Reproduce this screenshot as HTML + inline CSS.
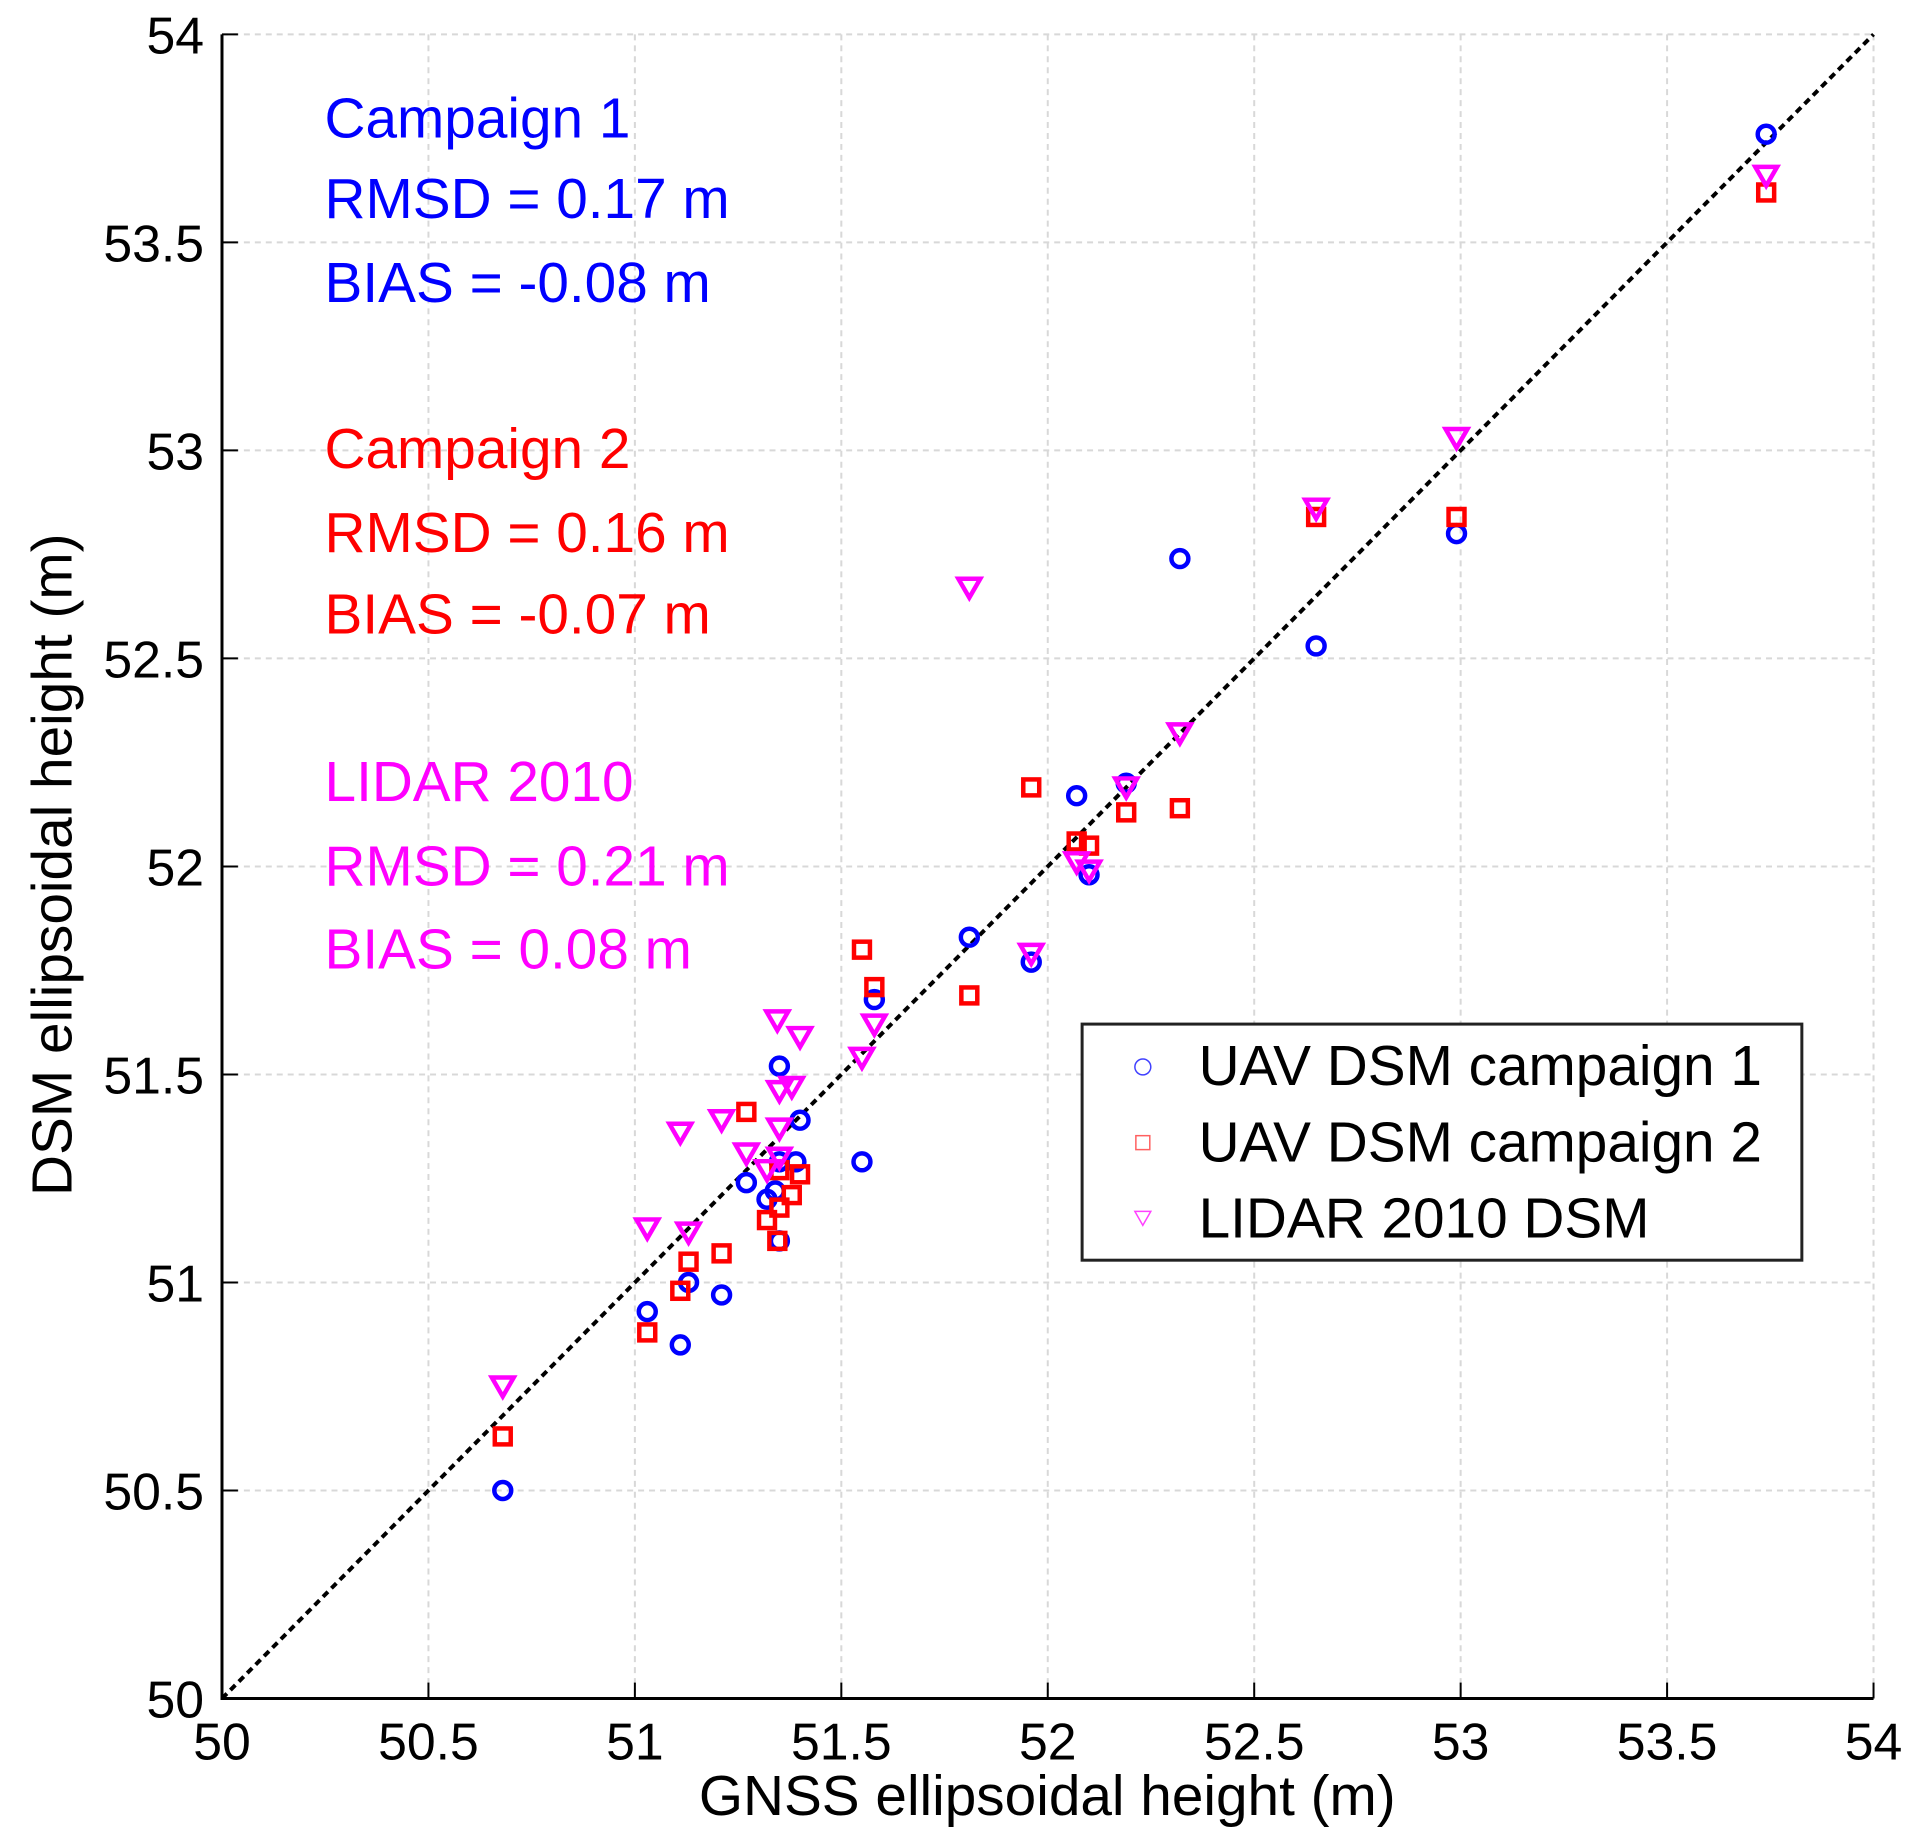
<!DOCTYPE html>
<html><head><meta charset="utf-8"><style>
html,body{margin:0;padding:0;background:#fff;}
svg{display:block;font-family:"Liberation Sans",Arial,sans-serif;}
</style></head><body>
<svg id="chart" width="1920" height="1841" viewBox="0 0 1920 1841" xmlns="http://www.w3.org/2000/svg">
<g transform="scale(0.9955,0.9962)">
<g id="grid"></g>
<g id="axes"></g>
<g id="marks"></g>
<g font-size="57">
<text x="326" y="138" fill="#0000ff">Campaign 1</text>
<text x="326" y="219" fill="#0000ff">RMSD = 0.17 m</text>
<text x="326" y="303" fill="#0000ff">BIAS = -0.08 m</text>
<text x="326" y="470" fill="#ff0000">Campaign 2</text>
<text x="326" y="554" fill="#ff0000">RMSD = 0.16 m</text>
<text x="326" y="636" fill="#ff0000">BIAS = -0.07 m</text>
<text x="326" y="804" fill="#ff00ff">LIDAR 2010</text>
<text x="326" y="889" fill="#ff00ff">RMSD = 0.21 m</text>
<text x="326" y="972" fill="#ff00ff">BIAS = 0.08 m</text>
</g>
<g>
<rect x="1087" y="1028" width="723" height="237" fill="#fff" stroke="#222" stroke-width="3"/>
<circle cx="1148" cy="1071" r="8" fill="none" stroke="#4040ff" stroke-width="1.5"/>
<rect x="1141" y="1140" width="14" height="14" fill="none" stroke="#ff6060" stroke-width="1.5"/>
<path d="M1140 1216 L1156 1216 L1148 1230 Z" fill="none" stroke="#ff40ff" stroke-width="1.5"/>
<text x="1204" y="1089" font-size="57" fill="#000">UAV DSM campaign 1</text>
<text x="1204" y="1166" font-size="57" fill="#000">UAV DSM campaign 2</text>
<text x="1204" y="1242" font-size="57" fill="#000">LIDAR 2010 DSM</text>
</g>
<text x="1052" y="1822" font-size="57" text-anchor="middle">GNSS ellipsoidal height (m)</text>
<text transform="translate(72,868) rotate(-90)" font-size="57" text-anchor="middle">DSM ellipsoidal height (m)</text>
</g>
</svg>
<script>
const xTicks = [50, 50.5, 51, 51.5, 52, 52.5, 53, 53.5, 54];
const yTicks = [50, 50.5, 51, 51.5, 52, 52.5, 53, 53.5, 54];
const tickLabels = ["50","50.5","51","51.5","52","52.5","53","53.5","54"];
const c1x = [50.68,51.03,51.11,51.13,51.21,51.27,51.32,51.34,51.35,51.35,51.39,51.40,51.55,51.58,51.81,51.96,52.07,52.10,52.19,52.32,52.65,52.99,53.74,51.35];
const c1y = [50.50,50.93,50.85,51.00,50.97,51.24,51.20,51.22,51.29,51.52,51.29,51.39,51.29,51.68,51.83,51.77,52.17,51.98,52.20,52.74,52.53,52.80,53.76,51.10];
const c2x = [50.68,51.03,51.11,51.13,51.21,51.27,51.32,51.345,51.35,51.35,51.38,51.40,51.55,51.58,51.81,51.96,52.07,52.10,52.19,52.32,52.65,52.99,53.74];
const c2y = [50.63,50.88,50.98,51.05,51.07,51.41,51.15,51.10,51.18,51.27,51.21,51.26,51.80,51.71,51.69,52.19,52.06,52.05,52.13,52.14,52.84,52.84,53.62];
const lx = [50.68,51.03,51.11,51.13,51.21,51.27,51.32,51.345,51.35,51.35,51.35,51.38,51.40,51.55,51.58,51.81,51.96,52.07,52.10,52.19,52.32,52.65,52.99,53.74];
const ly = [50.75,51.13,51.36,51.12,51.39,51.31,51.27,51.63,51.37,51.30,51.46,51.47,51.59,51.54,51.62,52.67,51.79,52.01,51.99,52.19,52.32,52.86,53.03,53.66];

const NS = "http://www.w3.org/2000/svg";
const L = 223, R = 1882, T = 34.5, B = 1705;
function sx(v){ return L + (v - 50) / 4 * (R - L); }
function sy(v){ return B - (v - 50) / 4 * (B - T); }
function mk(tag, attrs, parent){
  const e = document.createElementNS(NS, tag);
  for (const k in attrs) e.setAttribute(k, attrs[k]);
  parent.appendChild(e); return e;
}
const grid = document.getElementById('grid');
const axes = document.getElementById('axes');
const marks = document.getElementById('marks');

xTicks.forEach((v, i) => {
  const x = sx(v);
  if (i > 0) {
    const g = mk('line', {x1:x, y1:T, x2:x, y2:B, stroke:'#d8d8d8', 'stroke-width':2, 'stroke-dasharray':'6 5'}, grid);
    
    
  }
  const t = mk('line', {x1:x, y1:B, x2:x, y2:B-16, stroke:'#000', 'stroke-width':2}, axes);
  
  
  const lb = mk('text', {x:x, y:1766, 'font-size':52, 'text-anchor':'middle'}, axes);
  lb.textContent = tickLabels[i];
  
  
});
yTicks.forEach((v, i) => {
  const y = sy(v);
  if (i > 0) {
    const g = mk('line', {x1:L, y1:y, x2:R, y2:y, stroke:'#d8d8d8', 'stroke-width':2, 'stroke-dasharray':'6 5'}, grid);
    
    
  }
  const t = mk('line', {x1:L, y1:y, x2:L+16, y2:y, stroke:'#000', 'stroke-width':2}, axes);
  
  
  const lb = mk('text', {x:205, y:y+19, 'font-size':52, 'text-anchor':'end'}, axes);
  lb.textContent = tickLabels[i];
  
  
});
const ax = mk('path', {d:`M${L} ${T} L${L} ${B} L${R} ${B}`, fill:'none', stroke:'#000', 'stroke-width':3}, axes);


const diag = mk('line', {x1:sx(50), y1:sy(50), x2:sx(54), y2:sy(54), stroke:'#000', 'stroke-width':4, 'stroke-dasharray':'7 5'}, axes);



c1x.forEach((v, i) => {
  const c = mk('circle', {cx:sx(v), cy:sy(c1y[i]), r:8.5, fill:'none', stroke:'#0000ff', 'stroke-width':4.5}, marks);
  
  
});
c2x.forEach((v, i) => {
  const r = mk('rect', {x:sx(v)-8, y:sy(c2y[i])-8, width:16, height:16, fill:'none', stroke:'#ff0000', 'stroke-width':4.5}, marks);
  
  
});
lx.forEach((v, i) => {
  const x = sx(v), y = sy(ly[i]);
  const p = mk('path', {d:`M${x-11} ${y-9} L${x+11} ${y-9} L${x} ${y+10} Z`, fill:'none', stroke:'#ff00ff', 'stroke-width':4.5}, marks);
  
  
});
</script>
</body></html>
